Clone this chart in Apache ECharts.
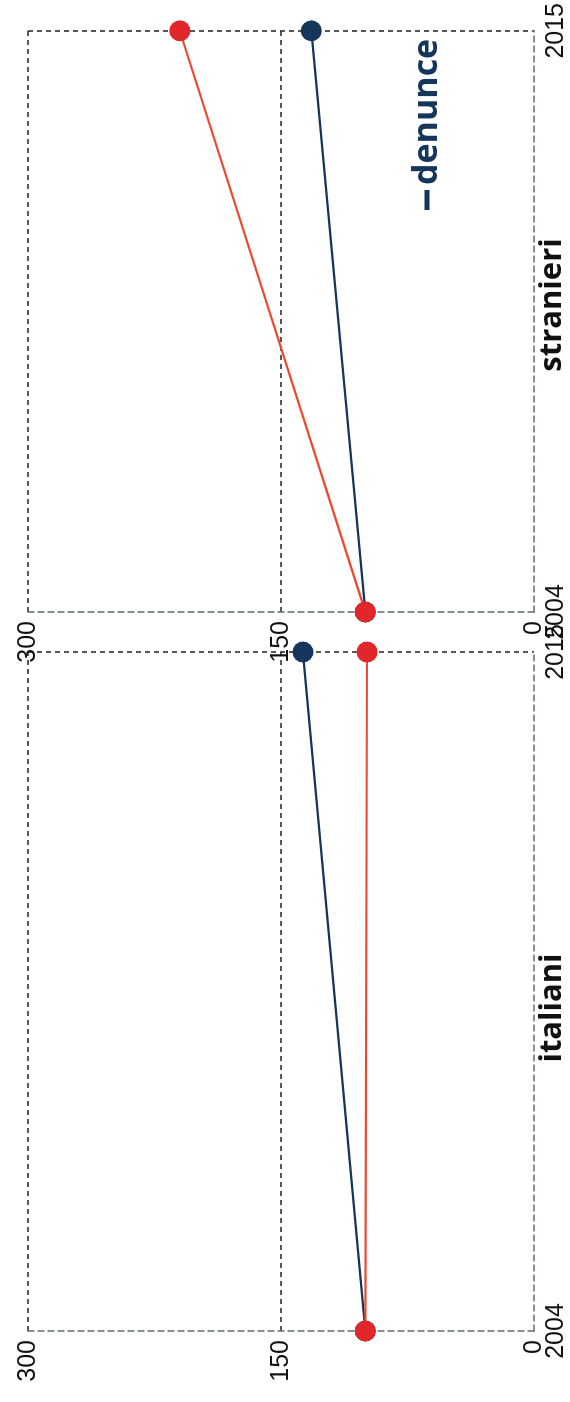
<!DOCTYPE html>
<html><head><meta charset="utf-8">
<script src="https://cdn.jsdelivr.net/npm/echarts@6/dist/echarts.min.js"></script>
<style>
html,body{margin:0;padding:0;width:570px;height:1402px;overflow:hidden;background:#fff}
#chart{position:absolute;left:0;top:0;width:1402px;height:570px;transform-origin:0 0;transform:translateY(1402px) rotate(-90deg);background:#fff}
</style></head><body><div id="chart"></div>
<script>
// Data (index, 2004 = 100)
const years = ['2004', '2015'];
const panelTitles = ['italiani', 'stranieri'];
const denunceItaliani = [100, 137];
const popolazioneItaliani = [100, 99];
const denunceStranieri = [100, 132];
const popolazioneStranieri = [100, 210];
const valueTicks = [0, 150, 300];

const NAVY = '#15355a', RED = '#e2272b', RED_LINE = '#ea4a30';
const AXIS_GRAY = '#5d6e74', DARK = '#222';
const chart = echarts.init(document.getElementById('chart'), null, {renderer: 'canvas'});

function xAx(gi) {
  return {
    type: 'category', gridIndex: gi, data: years, boundaryGap: false,
    axisTick: {show: false},
    axisLine: {show: true, lineStyle: {color: AXIS_GRAY, type: [6, 4], width: 1.5}},
    axisLabel: {fontFamily: 'Liberation Sans', fontSize: 25, color: '#111', margin: 10},
    splitLine: {show: true, showMinLine: false, lineStyle: {color: DARK, type: [5, 4], width: 1.5}}
  };
}
function yAx(gi) {
  return {
    type: 'value', gridIndex: gi, min: valueTicks[0], max: valueTicks[valueTicks.length - 1],
    interval: valueTicks[1] - valueTicks[0],
    axisTick: {show: false},
    axisLine: {show: true, lineStyle: {color: AXIS_GRAY, type: [6, 4], width: 1.5}},
    axisLabel: {fontFamily: 'Liberation Sans', fontSize: 25, color: '#111', margin: 9},
    splitLine: {show: true, showMinLine: false, lineStyle: {color: DARK, type: [5, 4], width: 1.5}}
  };
}
function lineSeries(name, data, gi, color, lineColor, z) {
  return {
    type: 'line', name: name, data: data, xAxisIndex: gi, yAxisIndex: gi,
    symbol: 'circle', symbolSize: 21, z: z,
    itemStyle: {color: color},
    lineStyle: {color: lineColor, width: 2.2},
    emphasis: {disabled: true}, animation: false
  };
}

chart.setOption({
  animation: false,
  grid: [
    {left: 71, top: 28, width: 679, height: 506},
    {left: 790, top: 28, width: 583, height: 506}
  ],
  xAxis: [xAx(0), xAx(1)],
  yAxis: [yAx(0), yAx(1)],
  title: [
    {text: panelTitles[0], left: 394, top: 537, textAlign: 'center', padding: 0,
     textStyle: {fontFamily: 'Open Sans', fontWeight: 'bold', fontSize: 31, color: '#111'}},
    {text: panelTitles[1], left: 1097, top: 537, textAlign: 'center', padding: 0,
     textStyle: {fontFamily: 'Open Sans', fontWeight: 'bold', fontSize: 31, color: '#111'}}
  ],
  legend: {
    data: [{name: 'denunce', textStyle: {color: NAVY}}],
    left: 1192, top: 410, padding: 0, width: 1000,
    icon: 'rect', itemWidth: 20, itemHeight: 5, itemGap: 4,
    textStyle: {fontFamily: 'Open Sans', fontWeight: 'bold', fontSize: 34, color: NAVY}
  },
  series: [
    lineSeries('denunce', denunceItaliani, 0, NAVY, NAVY, 2),
    lineSeries('popolazione', popolazioneItaliani, 0, RED, RED_LINE, 3),
    lineSeries('denunce', denunceStranieri, 1, NAVY, NAVY, 2),
    lineSeries('popolazione', popolazioneStranieri, 1, RED, RED_LINE, 3)
  ]
});
</script></body></html>
